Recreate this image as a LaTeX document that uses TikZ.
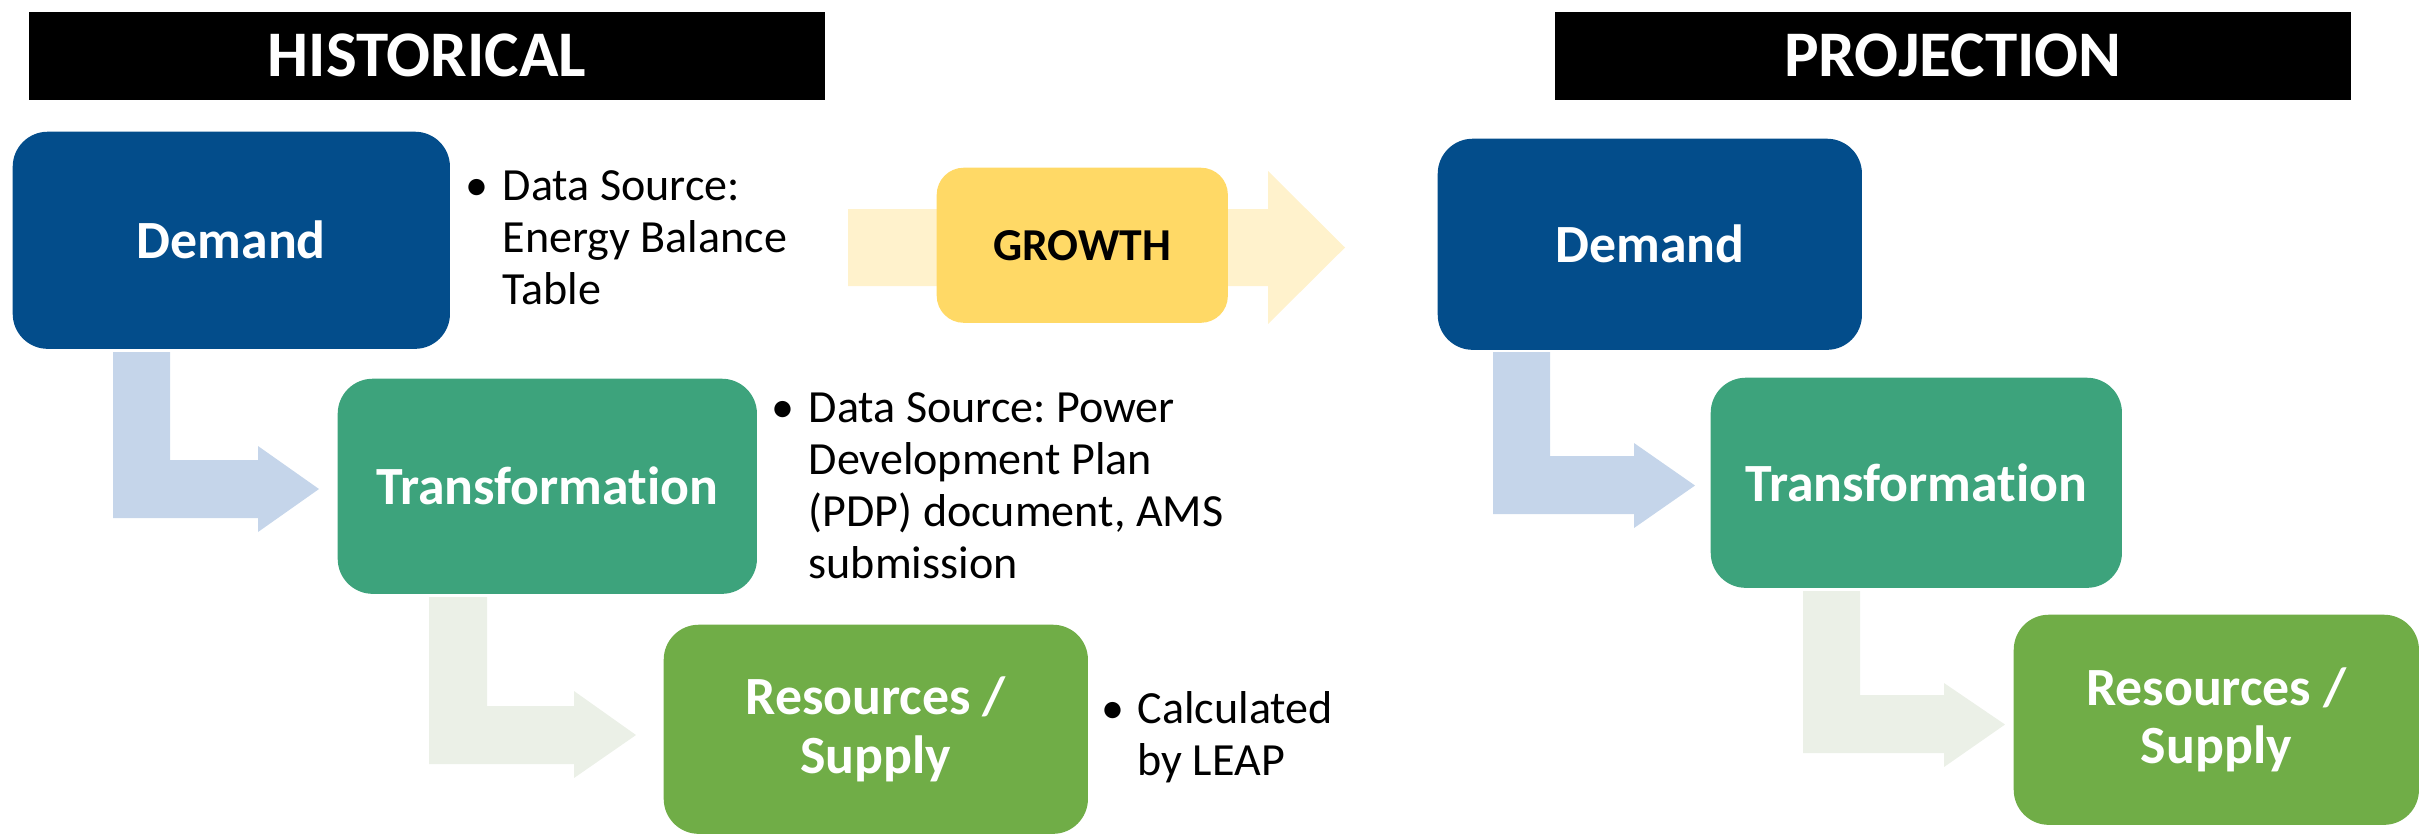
\documentclass[tikz,border=0pt]{standalone}
\usepackage{fontspec}
\setmainfont{Carlito}[Ligatures=NoCommon]
\frenchspacing
\definecolor{dblue}{HTML}{034D8B}
\definecolor{teal}{HTML}{3DA37C}
\definecolor{lgreen}{HTML}{70AD47}
\definecolor{gold}{HTML}{FFD966}
\definecolor{paleyellow}{HTML}{FFF2CC}
\definecolor{paleblue}{HTML}{C5D5EA}
\definecolor{palegreen}{HTML}{EBF0E7}
\newcommand\hdrfont{\bfseries\fontsize{18.5}{22}\selectfont}
\newcommand\boxfont{\bfseries\fontsize{15.3}{16.6}\selectfont}
\newcommand\growfont{\bfseries\fontsize{13}{15}\selectfont}
\newcommand\notefont{\fontsize{13.1}{14.8}\selectfont}
\tikzset{
  hdr/.style={fill=black, text=white, font=\hdrfont, inner sep=0pt, anchor=north west,
              minimum width=7.96cm, minimum height=0.88cm},
  stagebox/.style={rounded corners=0.35cm, text=white, font=\boxfont, align=center,
              inner sep=0pt, anchor=north west},
  growbox/.style={rounded corners=0.27cm, fill=gold, text=black, font=\growfont,
              inner sep=0pt, anchor=north west, minimum width=2.91cm, minimum height=1.55cm},
  note/.style={anchor=base west, inner sep=0pt, font=\notefont, align=left},
}
\begin{document}
\begin{tikzpicture}[x=0.01cm, y=-0.01cm]
\useasboundingbox (0,0) rectangle (2425,835);
% headers
\node[hdr] (hhist) at (28,11) {HISTORICAL};
\node[hdr] (hproj) at (1554,11) {PROJECTION};
% growth arrow (behind growth box)
\fill[paleyellow] (848,209) -- (1268,209) -- (1268,171) -- (1345,247.5) -- (1268,324) -- (1268,286) -- (848,286) -- cycle;
% bent arrows
\fill[paleblue] (113,352) -- (170,352) -- (170,460) -- (258,460) -- (258,446) -- (319,489) -- (258,532) -- (258,518) -- (113,518) -- cycle;
\fill[palegreen] (429,597) -- (487,597) -- (487,706) -- (574,706) -- (574,691) -- (636,735) -- (574,778) -- (574,764) -- (429,764) -- cycle;
\fill[paleblue] (1493,352) -- (1550,352) -- (1550,456) -- (1634,456) -- (1634,443) -- (1695,485.5) -- (1634,528) -- (1634,514) -- (1493,514) -- cycle;
\fill[palegreen] (1803,591) -- (1860,591) -- (1860,695) -- (1944,695) -- (1944,683) -- (2005,724.5) -- (1944,767) -- (1944,753) -- (1803,753) -- cycle;
% historical boxes
\node[stagebox, fill=dblue, minimum width=4.37cm, minimum height=2.17cm] (hd) at (12,131) {Demand};
\node[stagebox, fill=teal, minimum width=4.19cm, minimum height=2.15cm] (ht) at (337,378) {Transformation};
\node[stagebox, fill=lgreen, minimum width=4.24cm, minimum height=2.09cm] (hr) at (663,624) {Resources /\\Supply};
% growth
\node[growbox] (gr) at (936,167) {GROWTH};
% projection boxes
\node[stagebox, fill=dblue, minimum width=4.24cm, minimum height=2.11cm] (pd) at (1437,138) {Demand};
\node[stagebox, fill=teal, minimum width=4.11cm, minimum height=2.10cm] (pt) at (1710,377) {Transformation};
\node[stagebox, fill=lgreen, minimum width=4.05cm, minimum height=2.10cm] (pr) at (2013,614) {Resources /\\Supply};
% notes
\node[note] (nd) at (465,200) {\begin{tabular}[t]{@{}p{0.37cm}@{}l@{}}
\textbullet & Data Source:\\ & Energy Balance\\ & Table\end{tabular}};
\node[note] (nt) at (771,422) {\begin{tabular}[t]{@{}p{0.37cm}@{}l@{}}
\textbullet & Data Source: Power\\ & Development Plan\\ & (PDP) document, AMS\\ & submission\end{tabular}};
\node[note] (nr) at (1101,723) {\begin{tabular}[t]{@{}p{0.36cm}@{}l@{}}
\textbullet & Calculated\\ & by LEAP\end{tabular}};
\end{tikzpicture}
\end{document}
